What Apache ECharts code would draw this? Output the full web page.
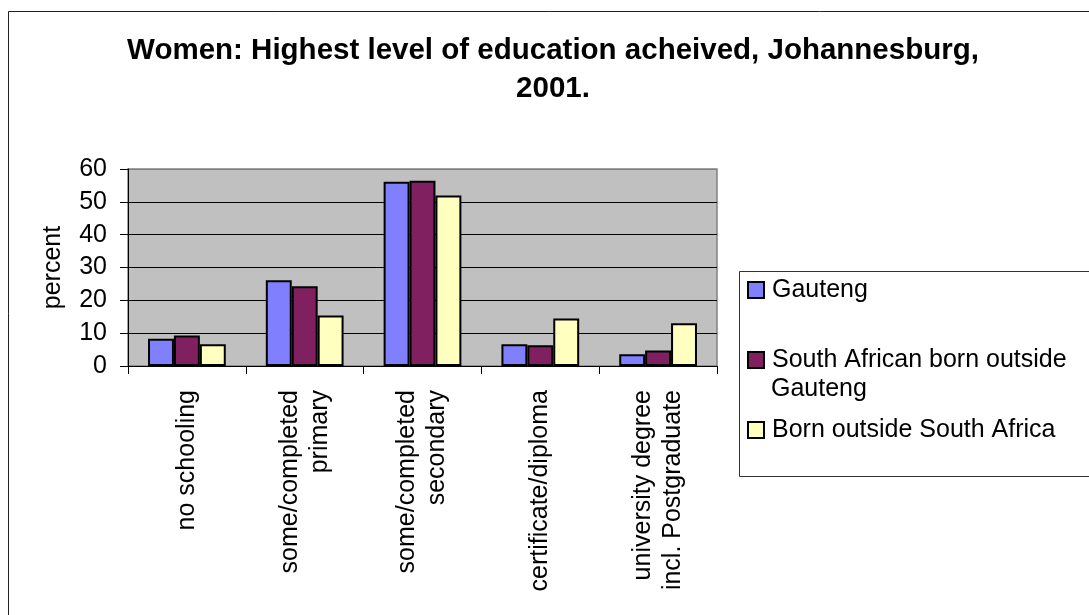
<!DOCTYPE html>
<html>
<head>
<meta charset="utf-8">
<script src="https://cdn.jsdelivr.net/npm/echarts@6/dist/echarts.min.js"></script>
<style>
  html, body { margin: 0; padding: 0; background: #fff; }
  #chart { width: 1089px; height: 615px; }
</style>
</head>
<body>
<div id="chart"></div>
<script>
/* === Data === */
const categories = [
  'no schooling',
  'some/completed\nprimary',
  'some/completed\nsecondary',
  'certificate/diploma',
  'university degree\nincl. Postgraduate'
];
const seriesNames = ['Gauteng', 'South African born outside Gauteng', 'Born outside South Africa'];
const gauteng = [8.3, 26.1, 56.1, 6.6, 3.6];
const saBornOutside = [9.3, 24.3, 56.4, 6.3, 4.7];
const bornOutsideSA = [6.6, 15.4, 51.9, 14.5, 13.0];

const FONT = "'Liberation Sans', Arial, sans-serif";
const COLORS = ['#8080FF', '#802060', '#FFFFC0'];

function barSeries(name, data, color) {
  return {
    name: name,
    type: 'bar',
    data: data,
    barGap: '0%',
    barCategoryGap: '34%',
    itemStyle: { color: color, borderColor: '#000', borderWidth: 2 }
  };
}

const chart = echarts.init(document.getElementById('chart'));
chart.setOption({
  animation: false,
  backgroundColor: '#fff',
  textStyle: { fontFamily: FONT },
  title: {
    text: 'Women: Highest level of education acheived, Johannesburg,\n2001.',
    left: 553, top: 32, textAlign: 'center', padding: 0,
    textStyle: { fontFamily: FONT, fontSize: 29.5, fontWeight: 'bold', color: '#000', lineHeight: 38 }
  },
  legend: {
    orient: 'vertical',
    left: 747, top: 275,
    padding: 0,
    itemWidth: 16, itemHeight: 16,
    itemGap: 40,
    icon: 'rect',
    formatter: name => name === seriesNames[1] ? 'South African born outside' : name,
    textStyle: { fontFamily: FONT, fontSize: 25, color: '#000', lineHeight: 30, padding: [0, 0, 0, 3] }
  },
  grid: {
    left: 128, top: 169, right: 372, bottom: 249,
    show: true, backgroundColor: '#C0C0C0',
    borderColor: '#808080', borderWidth: 1.5
  },
  xAxis: {
    type: 'category',
    data: categories,
    axisLine: { lineStyle: { color: '#000', width: 1 } },
    axisTick: { show: true, length: 8, lineStyle: { color: '#000' } },
    axisLabel: {
      interval: 0, rotate: 90, margin: 24,
      fontFamily: FONT, fontSize: 25, lineHeight: 30, color: '#000'
    }
  },
  yAxis: {
    type: 'value',
    min: 0, max: 60, interval: 10,
    name: 'percent',
    nameLocation: 'middle',
    nameRotate: 90,
    nameGap: 62,
    nameTextStyle: { fontFamily: FONT, fontSize: 25, color: '#000' },
    axisLine: { show: true, lineStyle: { color: '#000', width: 1 } },
    axisTick: { show: true, length: 8, lineStyle: { color: '#000' } },
    axisLabel: { margin: 21, fontFamily: FONT, fontSize: 25, color: '#000' },
    splitLine: {
      lineStyle: {
        color: ['#000', '#000', '#000', '#000', '#000', '#000', '#808080'],
        width: 1
      }
    }
  },
  graphic: [
    {
      type: 'rect', z: -1, silent: true,
      shape: { x: 8.5, y: 11.5, width: 1200, height: 800 },
      style: { fill: null, stroke: '#222', lineWidth: 1 }
    },
    {
      type: 'rect', z: -1, silent: true,
      shape: { x: 739.5, y: 271.5, width: 500, height: 205 },
      style: { fill: null, stroke: '#333', lineWidth: 1 }
    },
    {
      type: 'text', silent: true,
      left: 771, top: 377,
      style: { text: 'Gauteng', fontFamily: FONT, fontSize: 25, fill: '#000' }
    }
  ],
  series: [
    barSeries(seriesNames[0], gauteng, COLORS[0]),
    barSeries(seriesNames[1], saBornOutside, COLORS[1]),
    barSeries(seriesNames[2], bornOutsideSA, COLORS[2])
  ]
});
</script>
</body>
</html>
